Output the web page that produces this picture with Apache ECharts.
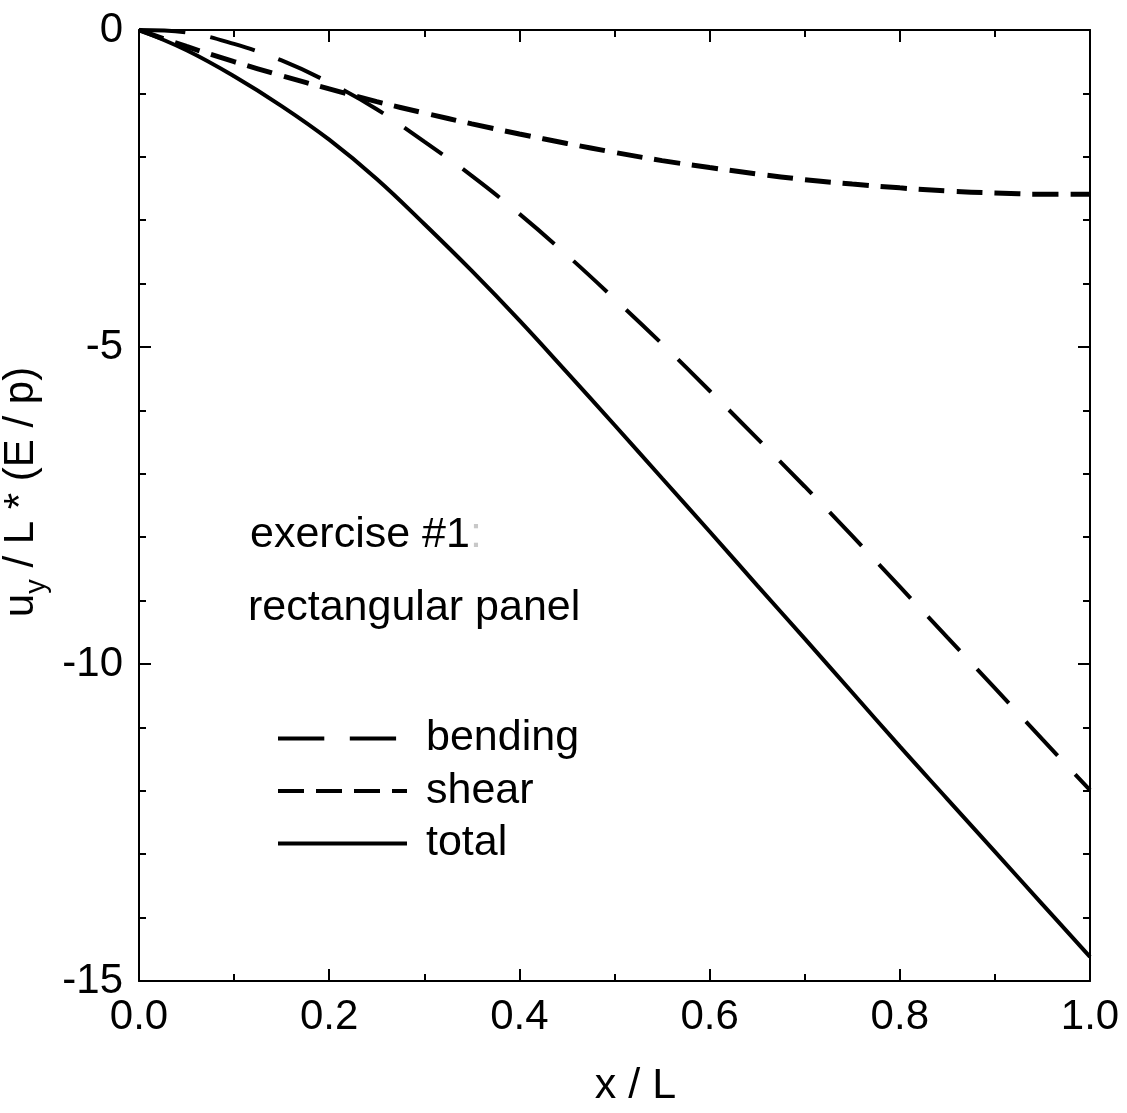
<!DOCTYPE html>
<html>
<head>
<meta charset="utf-8">
<script src="https://cdn.jsdelivr.net/npm/echarts@6/dist/echarts.min.js"></script>
<style>
  html, body { margin: 0; padding: 0; background: #fff; }
  #main { width: 1127px; height: 1113px; }
</style>
</head>
<body>
<div id="main"></div>
<script>
// x / L positions
var xs = [0, 0.05, 0.1, 0.15, 0.2, 0.25, 0.3, 0.35, 0.4, 0.45, 0.5,
          0.55, 0.6, 0.65, 0.7, 0.75, 0.8, 0.85, 0.9, 0.95, 1.0];
// u_y / L * (E / p)
var bending = [0, -0.04, -0.22, -0.48, -0.83, -1.25, -1.76, -2.30, -2.90, -3.55, -4.24,
               -4.95, -5.69, -6.44, -7.20, -7.98, -8.78, -9.58, -10.38, -11.19, -11.99];
var shear = [0, -0.26, -0.50, -0.72, -0.93, -1.13, -1.31, -1.48, -1.64, -1.79, -1.93,
             -2.06, -2.17, -2.27, -2.36, -2.43, -2.49, -2.54, -2.57, -2.59, -2.59];
var total = [0, -0.32, -0.73, -1.20, -1.73, -2.35, -3.06, -3.80, -4.58, -5.40, -6.23,
             -7.07, -7.91, -8.76, -9.60, -10.45, -11.30, -12.13, -12.96, -13.79, -14.62];

var seriesNames = ['bending', 'shear', 'total'];
var noteLines = ['exercise #1', 'rectangular panel'];

function pairs(ys) {
  return xs.map(function (x, i) { return [x, ys[i]]; });
}

var font = 'Liberation Sans, Arial, sans-serif';

function frameAxis(extra, split) {
  return Object.assign({
    axisLine: { show: true, onZero: false, lineStyle: { color: '#000', width: 2 } },
    splitLine: { show: false },
    axisTick: { show: true, inside: true, length: 12, lineStyle: { color: '#000', width: 2 } },
    minorTick: { show: true, splitNumber: split, length: 7, lineStyle: { color: '#000', width: 2 } }
  }, extra);
}

var myChart = echarts.init(document.getElementById('main'));
var option = {
  backgroundColor: '#fff',
  animation: false,
  grid: { left: 139, right: 37, top: 30, bottom: 132, containLabel: false, outerBoundsMode: 'none' },
  legend: {
    orient: 'vertical',
    left: 276,
    top: 717,
    padding: 0,
    itemWidth: 129,
    itemHeight: 40,
    itemGap: 9.5,
    data: seriesNames,
    itemStyle: { opacity: 0, borderWidth: 0 },
    lineStyle: { width: 4 },
    textStyle: { fontFamily: font, fontSize: 43, lineHeight: 40, color: '#000', padding: [0, 0, 0, 14] }
  },
  xAxis: [
    frameAxis({
      type: 'value', min: 0, max: 1, interval: 0.2, position: 'bottom',
      axisLabel: {
        fontFamily: font, fontSize: 42, color: '#000', margin: 15,
        formatter: function (v) { return v.toFixed(1); }
      },
      name: 'x / L', nameLocation: 'middle', nameGap: 84,
      nameTextStyle: { fontFamily: font, fontSize: 43, color: '#000', padding: [0, 0, 0, 42] }
    }, 2),
    frameAxis({
      type: 'value', min: 0, max: 1, interval: 0.2, position: 'top',
      axisLabel: { show: false }
    }, 2)
  ],
  yAxis: [
    frameAxis({
      type: 'value', min: -15, max: 0, interval: 5, position: 'left',
      axisLabel: { fontFamily: font, fontSize: 42, color: '#000', margin: 16 },
      name: '{n|u}{s|y}{n| / L * (E / p)}',
      nameLocation: 'middle', nameGap: 81, nameRotate: 90,
      nameTextStyle: {
        fontFamily: font, fontSize: 42, color: '#000', padding: [0, 0, 0, 27],
        rich: {
          n: { fontFamily: font, fontSize: 42, color: '#000', lineHeight: 60, verticalAlign: 'middle' },
          s: { fontFamily: font, fontSize: 29, color: '#000', lineHeight: 29, verticalAlign: 'bottom' }
        }
      }
    }, 5),
    frameAxis({
      type: 'value', min: -15, max: 0, interval: 5, position: 'right',
      axisLabel: { show: false }
    }, 5)
  ],
  graphic: [
    {
      type: 'text', x: 250, y: 535,
      style: {
        text: '{a|' + noteLines[0] + '}{b|:}',
        textVerticalAlign: 'middle',
        rich: {
          a: { fontFamily: font, fontSize: 43, fill: '#000' },
          b: { fontFamily: font, fontSize: 43, fill: '#c8c8c8' }
        }
      }
    },
    {
      type: 'text', x: 248, y: 608,
      style: { text: noteLines[1], font: '43px ' + font, fill: '#000', textVerticalAlign: 'middle' }
    }
  ],
  series: [
    {
      name: seriesNames[0], type: 'line', data: pairs(bending), smooth: 0.4,
      symbol: 'none', xAxisIndex: 0, yAxisIndex: 0,
      lineStyle: { color: '#000', width: 4, type: [46.3, 25.5] }
    },
    {
      name: seriesNames[1], type: 'line', data: pairs(shear), smooth: 0.4,
      symbol: 'none', xAxisIndex: 0, yAxisIndex: 0,
      lineStyle: { color: '#000', width: 5, type: [26, 12] }
    },
    {
      name: seriesNames[2], type: 'line', data: pairs(total), smooth: 0.4,
      symbol: 'none', xAxisIndex: 0, yAxisIndex: 0,
      lineStyle: { color: '#000', width: 4, type: 'solid' }
    }
  ]
};
myChart.setOption(option);
</script>
</body>
</html>
